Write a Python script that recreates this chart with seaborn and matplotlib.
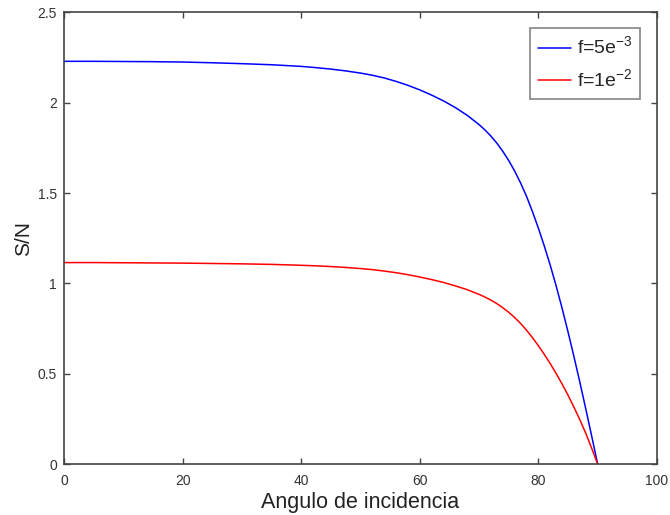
import matplotlib
matplotlib.use("Agg")
import matplotlib.pyplot as plt
import seaborn as sns
import pandas as pd
from matplotlib.ticker import FormatStrFormatter, MultipleLocator

# Signal-to-noise ratio versus angle of incidence for two values of f
angles = [0, 5, 10, 15, 20, 25, 30, 35, 40, 42.5, 45, 47.5, 50, 52, 54, 56, 58, 60,
          62, 64, 66, 68, 70, 71, 72, 73, 74, 75, 76, 77, 78, 79, 80, 81, 82, 83, 84,
          85, 86, 87, 88, 89, 90]

snr_f1 = [2.229, 2.229, 2.228, 2.227, 2.225, 2.221, 2.216, 2.210, 2.201, 2.194, 2.186,
          2.176, 2.164, 2.152, 2.137, 2.118, 2.096, 2.071,
          2.042, 2.010, 1.973, 1.930, 1.879, 1.849, 1.815, 1.776, 1.731, 1.680, 1.622,
          1.556, 1.482, 1.398, 1.306, 1.207, 1.101, 0.986, 0.863, 0.732, 0.595, 0.453,
          0.305, 0.154, 0.0]

snr_f2 = [1.115, 1.115, 1.114, 1.113, 1.112, 1.110, 1.108, 1.105, 1.100, 1.097, 1.093,
          1.088, 1.082, 1.076, 1.068, 1.059, 1.048, 1.035,
          1.021, 1.005, 0.986, 0.965, 0.939, 0.924, 0.907, 0.888, 0.865, 0.840, 0.811,
          0.778, 0.741, 0.700, 0.655, 0.607, 0.556, 0.501, 0.443, 0.381, 0.315, 0.245,
          0.170, 0.087, 0.0]

labels = ["f=5e$^{-3}$", "f=1e$^{-2}$"]
colors = ["#0000ff", "#ff0000"]

df = pd.concat([
    pd.DataFrame({"angulo": angles, "sn": snr_f1, "serie": labels[0]}),
    pd.DataFrame({"angulo": angles, "sn": snr_f2, "serie": labels[1]}),
])

sns.set_style("white")
plt.rcParams["font.family"] = ["Liberation Sans", "DejaVu Sans"]
plt.rcParams["mathtext.fontset"] = "custom"
plt.rcParams["mathtext.rm"] = "Liberation Sans"

fig = plt.figure(figsize=(6.7, 5.15), dpi=100)
ax = fig.add_axes([0.0955, 0.099, 0.885, 0.877])

sns.lineplot(data=df, x="angulo", y="sn", hue="serie", palette=dict(zip(labels, colors)),
             linewidth=1.1, ax=ax, sort=True, estimator=None)

ax.set_xlim(0, 100)
ax.set_ylim(0, 2.5)
ax.xaxis.set_major_locator(MultipleLocator(20))
ax.yaxis.set_major_locator(MultipleLocator(0.5))
ax.yaxis.set_major_formatter(FormatStrFormatter("%g"))

axis_color = "#444444"
for sp in ax.spines.values():
    sp.set_visible(True)
    sp.set_color(axis_color)
    sp.set_linewidth(1.2)
ax.tick_params(direction="in", length=4, width=1, colors=axis_color,
               labelcolor="#333333", labelsize=10, top=True, right=True,
               bottom=True, left=True)
ax.tick_params(axis="x", pad=7)
ax.tick_params(axis="y", pad=5)

ax.set_xlabel("Angulo de incidencia", fontsize=15.5, color="#222222", labelpad=3)
ax.set_ylabel("S/N", fontsize=15, color="#222222", labelpad=3)

leg = ax.legend(loc="upper right", bbox_to_anchor=(0.972, 0.965), fontsize=14,
                frameon=True, fancybox=False, handlelength=1.7, handletextpad=0.3,
                borderpad=0.4, labelspacing=0.5, borderaxespad=0)
leg.get_frame().set_edgecolor("#666666")
leg.get_frame().set_linewidth(1.2)

fig.savefig("out.png", dpi=100)
